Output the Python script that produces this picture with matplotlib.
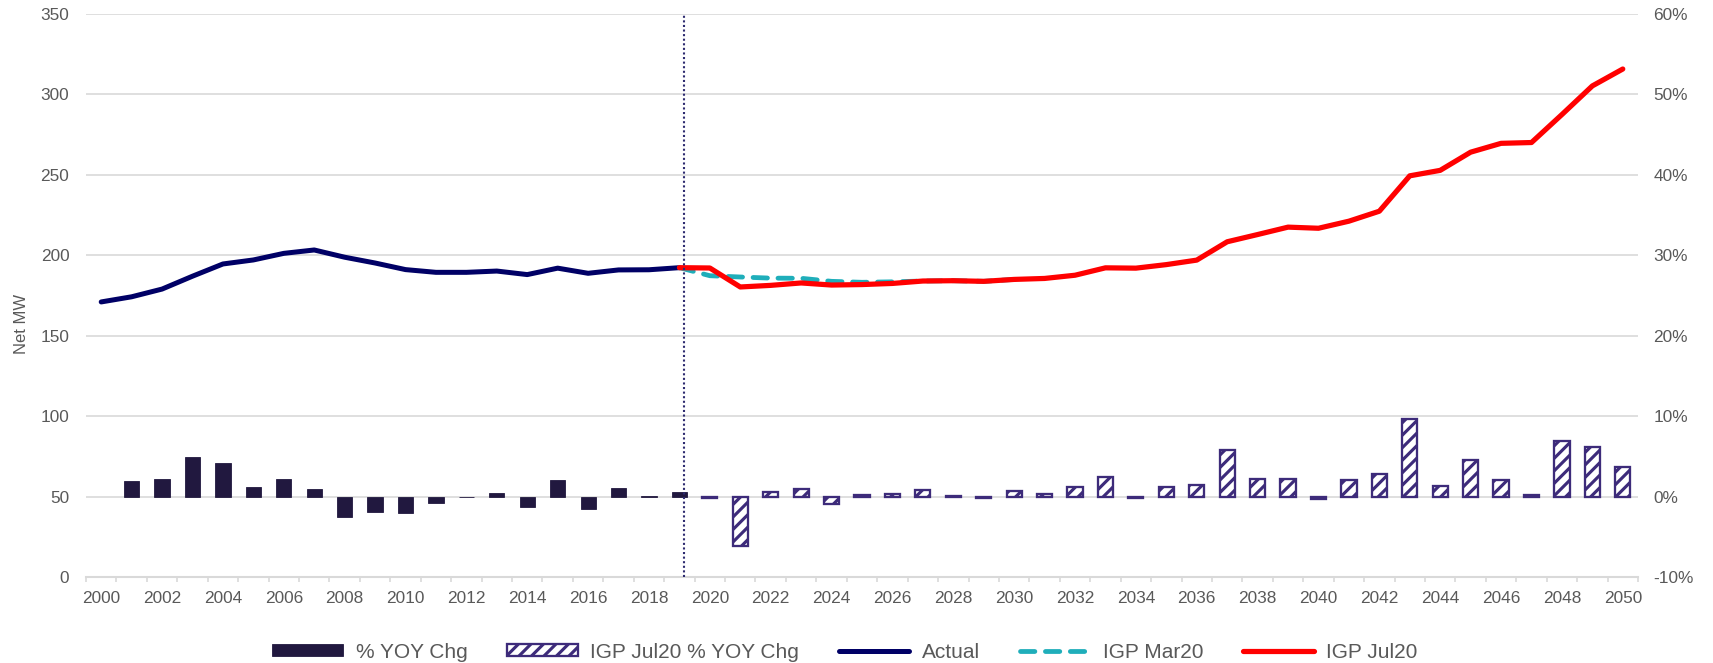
import matplotlib
matplotlib.use('Agg')
import matplotlib.pyplot as plt
import numpy as np
from matplotlib.ticker import FixedLocator, FuncFormatter

plt.rcParams['font.family'] = ['Liberation Sans', 'DejaVu Sans']
plt.rcParams['hatch.linewidth'] = 1.5

# ---------------- data ----------------
years_actual = list(range(2000, 2020))
actual = [171.0, 174.2, 179.0, 187.0, 194.6, 197.1, 201.2, 203.3, 198.8, 195.2,
          191.1, 189.4, 189.4, 190.2, 188.0, 192.0, 188.8, 190.9, 191.0, 192.3]

years_jul20 = list(range(2019, 2051))
igp_jul20 = [192.3, 192.1, 180.3, 181.3, 182.8, 181.5, 181.8, 182.5, 184.0, 184.2,
             183.8, 185.0, 185.6, 187.6, 192.2, 192.0, 194.2, 197.0, 208.4, 212.9,
             217.5, 216.8, 221.2, 227.4, 249.4, 252.8, 264.1, 269.6, 270.1, 287.5,
             305.3, 315.8]

years_mar20 = list(range(2019, 2031))
igp_mar20 = [192.3, 187.3, 186.5, 185.8, 185.7, 183.8, 183.2, 183.5, 184.0, 184.2,
             183.8, 185.0]

years_yoy = list(range(2001, 2020))
yoy_pct = [1.9, 2.2, 4.9, 4.2, 1.25, 2.15, 1.0, -2.6, -1.9, -2.1,
           -0.85, -0.05, 0.45, -1.35, 2.0, -1.6, 1.05, 0.1, 0.6]

years_jul20_yoy = list(range(2020, 2051))
jul20_yoy_pct = [-0.15, -6.2, 0.6, 0.95, -0.9, 0.2, 0.35, 0.85, 0.1, -0.2,
                 0.75, 0.3, 1.15, 2.4, -0.2, 1.15, 1.45, 5.75, 2.15, 2.15,
                 -0.35, 2.05, 2.8, 9.65, 1.35, 4.5, 2.05, 0.2, 6.9, 6.2, 3.7]

divider_year = 2019
xtick_years = list(range(2000, 2051, 2))
left_ticks = list(range(0, 351, 50))
right_ticks = [-0.10, 0.0, 0.10, 0.20, 0.30, 0.40, 0.50, 0.60]

# ---------------- style ----------------
W, H, DPI = 1713, 663, 150
TXT = '#595959'
GRID = '#D9D9D9'
C_BAR = '#21183F'
C_HATCH = '#3D2B7A'
C_ACT = '#000066'
C_MAR = '#1FAEBA'
C_JUL = '#FF0000'
DIVIDER_SHIFT = 0.15

fig = plt.figure(figsize=(W / DPI, H / DPI), dpi=DPI)
ax1 = fig.add_axes([86 / W, 86 / H, 1552 / W, 563 / H])
ax2 = ax1.twinx()
ax1.set_zorder(ax2.get_zorder() + 1)
ax1.patch.set_visible(False)

# bars (right axis)
b1 = ax2.bar(years_yoy, [v / 100 for v in yoy_pct], width=0.5,
             color=C_BAR, edgecolor=C_BAR, linewidth=0.4,
             label='% YOY Chg')
b2 = ax2.bar(years_jul20_yoy, [v / 100 for v in jul20_yoy_pct], width=0.5,
             facecolor='white', edgecolor=C_HATCH, hatch='////', linewidth=1.1,
             label='IGP Jul20 % YOY Chg')

# lines (left axis)
l1, = ax1.plot(years_actual, actual, color=C_ACT, lw=2.4,
               solid_capstyle='round', label='Actual', zorder=3)
l2, = ax1.plot(years_mar20, igp_mar20, color=C_MAR, lw=2.3,
               ls=(0, (3.0, 2.2)), dash_capstyle='round', label='IGP Mar20', zorder=3)
l3, = ax1.plot(years_jul20, igp_jul20, color=C_JUL, lw=2.5,
               solid_capstyle='round', label='IGP Jul20', zorder=4)

ax1.axvline(divider_year + DIVIDER_SHIFT, color='#2E2B70', lw=1.0,
            ls=(0, (1, 1.2)), zorder=5)

# axes limits / ticks
ax1.set_xlim(1999.5, 2050.5)
ax1.set_ylim(0, 350)
ax2.set_ylim(-0.10, 0.60)

ax1.set_yticks(left_ticks)
ax2.set_yticks(right_ticks)
ax2.yaxis.set_major_formatter(FuncFormatter(lambda v, p: f'{v * 100:.0f}%'))

ax1.set_xticks(xtick_years)
ax1.set_xticklabels([str(y) for y in xtick_years])
ax1.xaxis.set_minor_locator(FixedLocator(np.arange(1999.5, 2051, 1.0)))

ax1.tick_params(axis='x', which='major', length=0, pad=6.5, labelsize=8.3, labelcolor=TXT)
ax1.tick_params(axis='x', which='minor', length=2.5, width=0.8, color=GRID)
ax1.tick_params(axis='y', length=0, pad=8, labelsize=8.3, labelcolor=TXT)
ax2.tick_params(axis='y', length=0, pad=7.5, labelsize=8.3, labelcolor=TXT)

ax2.yaxis.grid(True, color=GRID, lw=0.8)
ax2.set_axisbelow(True)
ax1.grid(False)

for ax in (ax1, ax2):
    for s in ax.spines.values():
        s.set_visible(False)
ax1.spines['bottom'].set_visible(True)
ax1.spines['bottom'].set_color(GRID)
ax1.spines['bottom'].set_linewidth(1.0)

ax1.set_ylabel('Net MW', fontsize=8.0, color=TXT)
ax1.yaxis.set_label_coords(-0.037, 0.45)

fig.legend([b1, b2, l1, l2, l3],
           ['% YOY Chg', 'IGP Jul20 % YOY Chg', 'Actual', 'IGP Mar20', 'IGP Jul20'],
           loc='center', bbox_to_anchor=(845 / W, 11 / H), ncol=5, frameon=False,
           fontsize=10.0, labelcolor=TXT, handlelength=3.4, handleheight=0.5,
           handletextpad=0.6, columnspacing=1.9)

fig.savefig('out.png', dpi=DPI, facecolor='white')
